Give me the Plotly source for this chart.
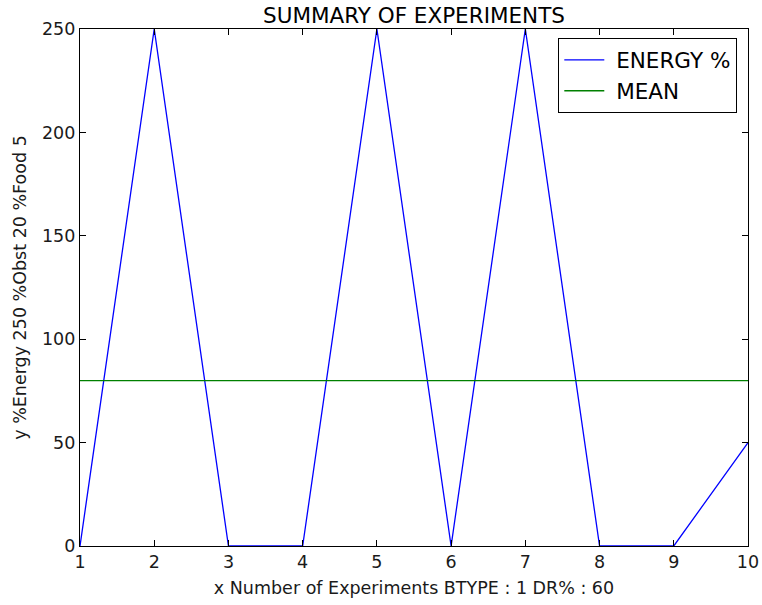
import plotly.graph_objects as go

# Experiment results
experiments = [1, 2, 3, 4, 5, 6, 7, 8, 9, 10]
energy_pct = [0, 250, 0, 0, 250, 0, 250, 0, 0, 50]
mean_value = sum(energy_pct) / len(energy_pct)
mean_line = [mean_value] * len(experiments)

x_ticks = [1, 2, 3, 4, 5, 6, 7, 8, 9, 10]
y_ticks = [0, 50, 100, 150, 200, 250]

FONT = "DejaVu Sans, sans-serif"
TEXT = "#1a1a1a"
GAP = "\u00a0"  # small gap between legend line sample and its label

fig = go.Figure()
fig.add_trace(go.Scatter(
    x=experiments, y=energy_pct, mode="lines", name=GAP + "ENERGY %",
    line=dict(color="#0000ff", width=1.3),
))
fig.add_trace(go.Scatter(
    x=experiments, y=mean_line, mode="lines", name=GAP + "MEAN",
    line=dict(color="#008000", width=1.3),
))

axis_common = dict(
    showgrid=False, zeroline=False, automargin=False,
    showline=True, linecolor="black", linewidth=1.3, mirror="ticks",
    ticks="inside", ticklen=6, tickcolor="black", tickwidth=1,
    tickfont=dict(family=FONT, size=17.5, color=TEXT),
)

fig.update_layout(
    width=762, height=605,
    margin=dict(l=80, r=14, t=29, b=59),
    paper_bgcolor="white", plot_bgcolor="white",
    font=dict(family=FONT, color=TEXT),
    title=dict(
        text="SUMMARY OF EXPERIMENTS",
        x=(80 + 748) / 2 / 762, xanchor="center",
        y=1 - 15 / 605, yanchor="middle",
        font=dict(family=FONT, size=21.5, color="black"),
    ),
    xaxis=dict(
        range=[1, 10], tickvals=x_ticks,
        title=dict(text="x Number of Experiments BTYPE : 1 DR% : 60",
                   font=dict(family=FONT, size=17.5, color=TEXT), standoff=10),
        **axis_common,
    ),
    yaxis=dict(
        range=[0, 250], tickvals=y_ticks,
        title=dict(text="y %Energy 250 %Obst 20 %Food 5",
                   font=dict(family=FONT, size=17.5, color=TEXT), standoff=10),
        **axis_common,
    ),
    showlegend=True,
    legend=dict(
        x=(737 - 80) / 668, xanchor="right",
        y=(546 - 38) / 517, yanchor="top",
        bgcolor="white", bordercolor="black", borderwidth=1.3,
        font=dict(family=FONT, size=21.5, color="black"),
        itemwidth=40,
        tracegroupgap=0,
    ),
)

fig.write_html("out.html")
